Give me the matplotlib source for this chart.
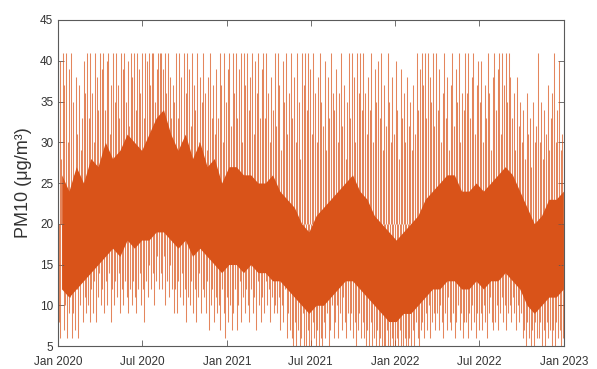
import numpy as np
import pandas as pd
import matplotlib
matplotlib.use("Agg")
import matplotlib.pyplot as plt
import matplotlib.dates as mdates

plt.rcParams["font.family"] = ["Liberation Sans", "DejaVu Sans"]

# PM10 peaks and troughs, one pair every 3.5 days (9 per row ~ one month),
# read off the figure
spike_hi = [
    41, 40, 28, 41, 37, 41, 30, 39, 41,
    35, 26, 38, 31, 37, 29, 33, 40, 36,
    41, 33, 41, 36, 30, 41, 38, 34, 41,
    39, 41, 34, 40, 41, 31, 37, 41, 35,
    41, 37, 33, 41, 39, 41, 35, 40, 32,
    41, 38, 41, 34, 41, 39, 36, 41, 33,
    41, 40, 41, 37, 41, 41, 35, 39, 41,
    41, 41, 39, 41, 36, 41, 38, 33, 37,
    35, 41, 33, 41, 38, 30, 41, 36, 41,
    39, 32, 41, 37, 34, 41, 30, 38, 35,
    41, 36, 29, 38, 41, 33, 37, 31, 39,
    33, 41, 37, 30, 41, 35, 39, 41, 32,
    41, 36, 41, 33, 39, 41, 30, 41, 37,
    41, 34, 38, 41, 31, 40, 36, 41, 33,
    39, 41, 33, 41, 36, 30, 38, 34, 41,
    32, 41, 37, 29, 40, 35, 41, 31, 36,
    41, 33, 38, 30, 41, 35, 28, 41, 37,
    41, 34, 41, 39, 31, 41, 36, 30, 38,
    41, 35, 32, 40, 29, 38, 33, 41, 36,
    34, 39, 30, 36, 41, 32, 37, 28, 35,
    41, 33, 41, 38, 30, 41, 36, 41, 34,
    41, 36, 31, 38, 34, 41, 30, 39, 35,
    40, 33, 41, 29, 37, 32, 41, 35, 30,
    38, 31, 40, 34, 28, 39, 33, 36, 30,
    38, 32, 35, 29, 37, 31, 41, 34, 39,
    41, 37, 41, 33, 41, 38, 35, 41, 32,
    41, 34, 39, 30, 36, 41, 33, 38, 29,
    37, 41, 32, 39, 35, 41, 30, 36, 34,
    41, 36, 41, 33, 38, 41, 31, 37, 40,
    35, 40, 30, 37, 33, 41, 36, 29, 38,
    41, 34, 39, 41, 31, 41, 37, 41, 35,
    41, 38, 33, 36, 29, 38, 32, 35, 30,
    34, 28, 36, 31, 33, 27, 35, 30, 32,
    41, 30, 35, 28, 34, 31, 37, 29, 33,
    36, 41, 30, 34, 40, 29, 31,
]
spike_lo = [
    8, 6, 12, 7, 10, 6, 9, 11, 6,
    9, 7, 12, 6, 10, 13, 8, 11, 9,
    10, 8, 12, 9, 13, 8, 11, 14, 10,
    12, 9, 13, 10, 14, 8, 12, 10, 13,
    11, 14, 9, 12, 10, 13, 11, 9, 12,
    10, 13, 11, 9, 12, 14, 10, 12, 8,
    13, 11, 15, 12, 14, 10, 13, 16, 12,
    14, 12, 16, 10, 13, 11, 15, 12, 9,
    12, 9, 13, 11, 14, 10, 12, 8, 11,
    10, 13, 9, 12, 8, 11, 14, 9, 12,
    11, 9, 13, 7, 10, 12, 8, 11, 9,
    10, 7, 12, 9, 6, 11, 8, 10, 7,
    9, 12, 7, 10, 13, 8, 11, 9, 12,
    10, 8, 12, 9, 11, 7, 13, 10, 8,
    11, 9, 13, 10, 12, 8, 11, 9, 10,
    9, 11, 7, 10, 8, 12, 6, 9, 7,
    6, 4.5, 8, 5, 7, 4.5, 6, 9, 4.5,
    4.5, 7, 5, 4.5, 8, 6, 4.5, 7, 5,
    6, 4.5, 8, 6, 9, 5, 7, 10, 6,
    8, 10, 6, 9, 7, 11, 8, 6, 9,
    7, 9, 6, 8, 5, 7, 9, 6, 8,
    6, 4.5, 7, 5, 8, 4.5, 6, 4.5, 7,
    4.5, 6, 4.5, 5, 4.5, 7, 4.5, 5, 6,
    5, 4.5, 6, 4.5, 7, 5, 4.5, 6, 4.5,
    4.5, 6, 5, 7, 4.5, 8, 6, 5, 7,
    8, 6, 9, 7, 10, 6, 8, 9, 7,
    9, 7, 10, 8, 6, 9, 7, 11, 8,
    7, 9, 6, 8, 10, 7, 9, 6, 8,
    8, 6, 9, 7, 10, 8, 6, 9, 7,
    9, 7, 10, 8, 6, 9, 11, 8, 7,
    8, 10, 7, 9, 11, 8, 10, 7, 9,
    10, 8, 11, 9, 7, 10, 8, 9, 6,
    7, 5, 8, 6, 4.5, 7, 5, 8, 6,
    6, 8, 5, 7, 4.5, 8, 6, 7, 5,
    7, 5, 8, 6, 7, 5, 6,
]

# dense band where most of the hourly values sit, twice a month
core_lo = [12, 11, 12, 13, 14, 15, 16, 17, 16, 18, 17, 18, 18, 19, 19, 18,
           17, 18, 16, 17, 16, 15, 14, 15, 15, 14, 15, 14, 14, 13, 13, 12,
           11, 10, 9, 10, 10, 11, 12, 13, 13, 12, 11, 10, 9, 8, 8, 9,
           9, 10, 11, 12, 12, 13, 13, 12, 12, 13, 12, 13, 13, 14, 13, 12,
           10, 9, 10, 11, 11, 12]
core_hi = [26, 24, 27, 25, 28, 27, 30, 28, 29, 31, 30, 29, 31, 33, 34, 31,
           29, 31, 28, 30, 27, 28, 25, 27, 27, 26, 26, 25, 25, 26, 24, 23,
           22, 20, 19, 21, 22, 23, 24, 25, 26, 24, 23, 21, 20, 19, 18, 19,
           20, 21, 23, 24, 25, 26, 26, 24, 24, 25, 24, 25, 26, 27, 26, 24,
           22, 20, 21, 23, 23, 24]

COLOR = "#D95319"
AX_COLOR = "#5a5a5a"

start = pd.Timestamp("2020-01-01")
step = pd.Timedelta(hours=84)  # 3.5 days
spike_t = start + step * np.arange(len(spike_hi))
core_t = start + pd.Timedelta(days=7.9) + pd.Timedelta(hours=378) * np.arange(len(core_lo))

fig = plt.figure(figsize=(5.97, 3.69), dpi=100)
ax = fig.add_axes([0.0972, 0.0623, 0.8475, 0.8835])

# spikes leave the dense band upwards / downwards; base sits inside the band
ax.vlines(spike_t, 20, spike_hi, color=COLOR, lw=0.75, alpha=0.7)
ax.vlines(spike_t + step / 2, spike_lo, 20, color=COLOR, lw=0.75, alpha=0.7)
ax.fill_between(core_t, core_lo, core_hi, color=COLOR, lw=0)

ax.set_xlim(pd.Timestamp("2020-01-01"), pd.Timestamp("2023-01-01"))
ax.set_ylim(5, 45)
ax.set_yticks(np.arange(5, 46, 5))
ax.xaxis.set_major_locator(mdates.MonthLocator(bymonth=[1, 7]))
ax.xaxis.set_major_formatter(mdates.DateFormatter("%b %Y"))

ax.set_ylabel("PM10 (μg/m³)", fontsize=13, color="#333333", labelpad=6)
ax.tick_params(direction="in", length=4, width=0.6, top=True, right=True,
               labelsize=8.5, colors=AX_COLOR, labelcolor="#333333")
ax.tick_params(axis="x", pad=7)
for s in ax.spines.values():
    s.set_color(AX_COLOR)
    s.set_linewidth(0.8)

fig.savefig("out.png", dpi=100)
